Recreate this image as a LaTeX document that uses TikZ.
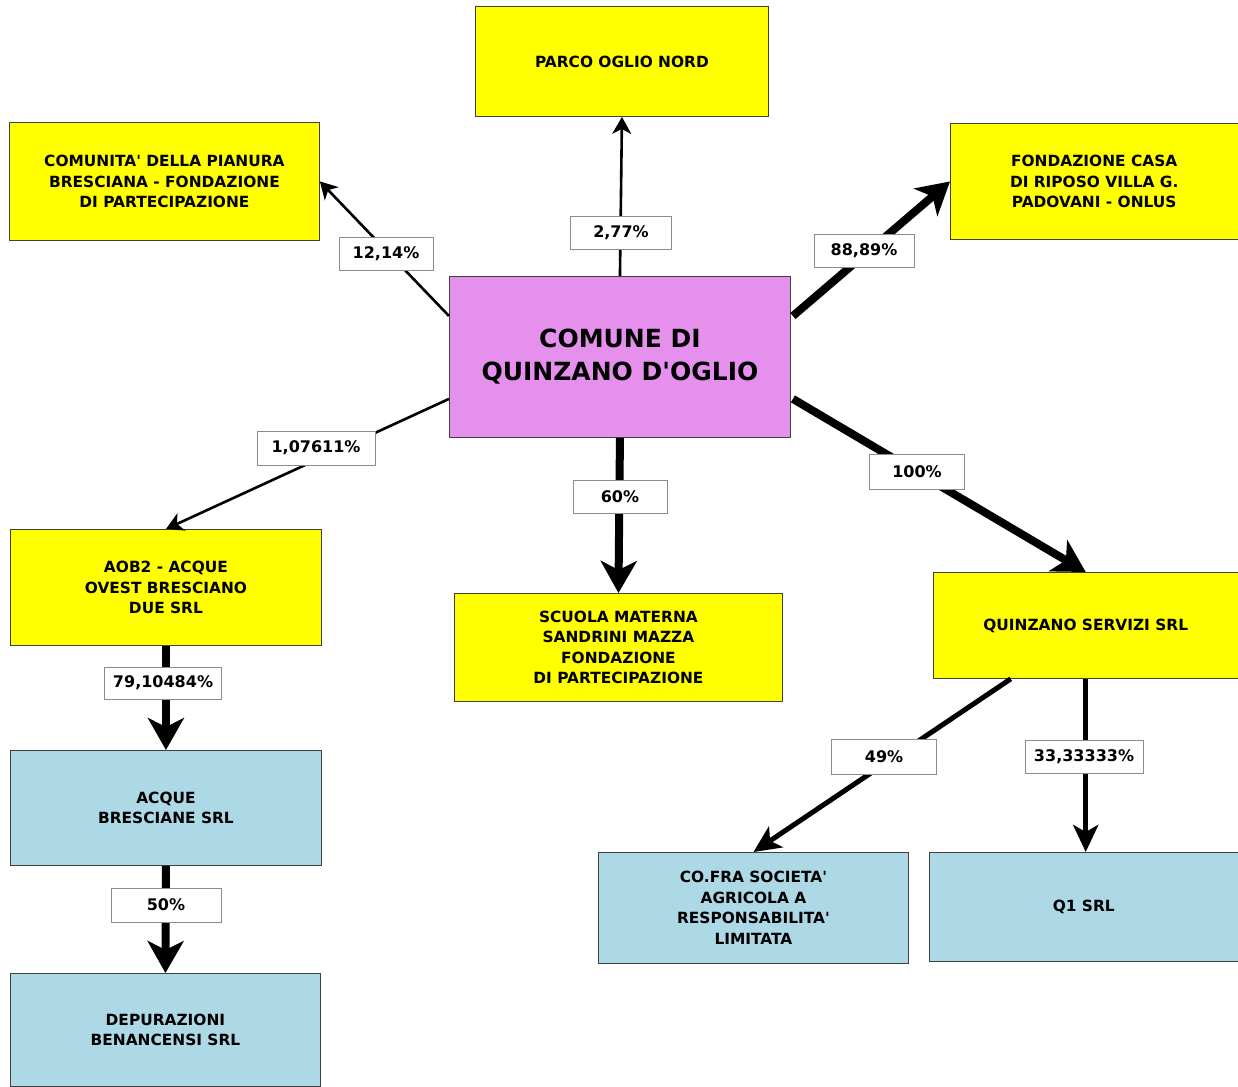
\documentclass[tikz,border=0pt]{standalone}
\usepackage{fontspec}
\setmainfont{DejaVu Sans}[Ligatures=TeXOff]
\usetikzlibrary{arrows.meta,calc}
\definecolor{yel}{HTML}{FFFF00}
\definecolor{viol}{HTML}{E490EC}
\definecolor{lblue}{HTML}{ADD8E6}
\begin{document}
\begin{tikzpicture}[x=1pt,y=-1pt,
 ent/.style={draw=black!75,line width=0.9pt,align=center,inner sep=0pt,font=\bfseries\fontsize{15.4}{20.5}\selectfont,anchor=north west},
 yb/.style={ent,fill=yel},
 bb/.style={ent,fill=lblue},
 pct/.style={draw=black!45,line width=0.9pt,fill=white,inner sep=0pt,font=\bfseries\fontsize{16}{18}\selectfont},
 thinarr/.style={line width=2.6pt,-{Stealth[length=17pt,width=19pt,inset=5pt]}},
 medarr/.style={line width=5pt,-{Stealth[length=27pt,width=25pt,inset=7pt]}},
 thickarr/.style={line width=8pt,-{Stealth[length=32pt,width=36pt,inset=9pt]}},
]
\useasboundingbox[fill=white] (0,0) rectangle (1238,1086);

% boxes
\node[yb,minimum width=293pt,minimum height=110pt] (parco) at (475,6) {PARCO OGLIO NORD};
\node[yb,minimum width=310pt,minimum height=118pt] (comunita) at (9,122) {COMUNITA' DELLA PIANURA\\BRESCIANA - FONDAZIONE\\DI PARTECIPAZIONE};
\node[yb,minimum width=287.5pt,minimum height=116pt] (fond) at (950,123) {FONDAZIONE CASA\\DI RIPOSO VILLA G.\\PADOVANI - ONLUS};
\node[ent,fill=viol,minimum width=341pt,minimum height=161pt,font=\bfseries\fontsize{25}{33}\selectfont] (comune) at (449,276) {COMUNE DI\\QUINZANO D'OGLIO};
\node[yb,minimum width=311pt,minimum height=116pt] (aob2) at (10,529) {AOB2 - ACQUE\\OVEST BRESCIANO\\DUE SRL};
\node[yb,minimum width=328pt,minimum height=108pt] (scuola) at (454,593) {SCUOLA MATERNA\\SANDRINI MAZZA\\FONDAZIONE\\DI PARTECIPAZIONE};
\node[yb,minimum width=304.5pt,minimum height=106pt] (qserv) at (933,572) {QUINZANO SERVIZI SRL};
\node[bb,minimum width=311pt,minimum height=115pt] (acque) at (10,750) {ACQUE\\BRESCIANE SRL};
\node[bb,minimum width=310pt,minimum height=113pt] (depur) at (10,973) {DEPURAZIONI\\BENANCENSI SRL};
\node[bb,minimum width=310pt,minimum height=111pt] (cofra) at (598,852) {CO.FRA SOCIETA'\\AGRICOLA A\\RESPONSABILITA'\\LIMITATA};
\node[bb,minimum width=308.5pt,minimum height=109pt] (q1) at (929,852) {Q1 SRL};

% connectors
\draw[thinarr] (comune.north) -- (parco.south);
\draw[thinarr] ($(comune.north west)+(0,40)$) -- (comunita.east);
\draw[thickarr] ($(comune.north east)+(2,40)$) -- (fond.west);
\draw[thinarr] ($(comune.south west)+(0,-39)$) -- (aob2.north);
\draw[thickarr] (comune.south) -- (scuola.north);
\draw[thickarr] ($(comune.south east)+(2,-39)$) -- (qserv.north);
\draw[thickarr] (aob2.south) -- (acque.north);
\draw[thickarr] (acque.south) -- (depur.north);
\draw[medarr] ($(qserv.south)+(-75,0)$) -- (cofra.north);
\draw[medarr] (qserv.south) -- (qserv.south |- q1.north);

% percentage labels
\node[pct,minimum width=101pt,minimum height=33pt] (l277) at (621,233) {2,77\%};
\node[pct,minimum width=94pt,minimum height=33pt] (l1214) at (386,254) {12,14\%};
\node[pct,minimum width=100pt,minimum height=33pt] (l8889) at (864,251) {88,89\%};
\node[pct,minimum width=118pt,minimum height=34pt] (l107) at (316,448) {1,07611\%};
\node[pct,minimum width=94pt,minimum height=33pt] (l60) at (620,497) {60\%};
\node[pct,minimum width=95pt,minimum height=35pt] (l100) at (917,472) {100\%};
\node[pct,minimum width=117pt,minimum height=32pt] (l79) at (163,683) {79,10484\%};
\node[pct,minimum width=110pt,minimum height=34pt] (l50) at (166,905) {50\%};
\node[pct,minimum width=105pt,minimum height=35pt] (l49) at (884,757) {49\%};
\node[pct,minimum width=118pt,minimum height=33pt] (l33) at (1084,757) {33,33333\%};
\end{tikzpicture}
\end{document}
